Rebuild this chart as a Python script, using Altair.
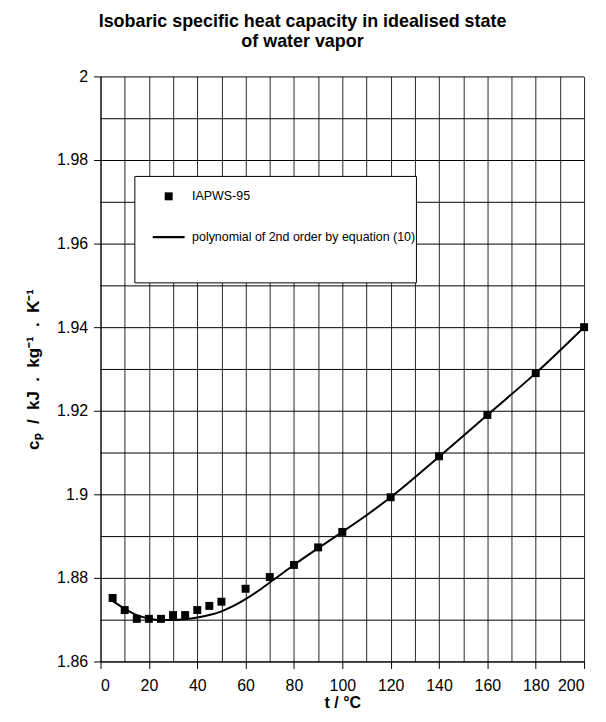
import altair as alt
import pandas as pd

# IAPWS-95 data points
pt_t = [5, 10, 15, 20, 25, 30, 35, 40, 45, 50, 60, 70, 80, 90, 100, 120, 140, 160, 180, 200]
pt_cp = [1.8752, 1.8723, 1.8702, 1.8702, 1.8702, 1.8711, 1.8711, 1.8723, 1.8733, 1.8743,
         1.8774, 1.8802, 1.8831, 1.8873, 1.8910, 1.8993, 1.9091, 1.9190, 1.9290, 1.9400]

# polynomial curve
line_t = [5, 10, 15, 20, 25, 30, 35, 40, 45, 50, 55, 60, 65, 70, 75, 80, 90, 100, 110, 120, 140, 160, 180, 200]
line_cp = [1.8745, 1.8726, 1.8711, 1.8703, 1.8699, 1.8699, 1.8701, 1.8705, 1.8711, 1.8720, 1.8733,
           1.8749, 1.8768, 1.8789, 1.8810, 1.8831, 1.8871, 1.8910, 1.8950, 1.8993, 1.9090, 1.9190,
           1.9290, 1.9400]

series_names = ["IAPWS-95", "polynomial of 2nd order by equation (10)"]

x_ticks = [0, 10, 20, 30, 40, 50, 60, 70, 80, 90, 100, 110, 120, 130, 140, 150, 160, 170, 180, 190, 200]
y_ticks = [1.86, 1.87, 1.88, 1.89, 1.90, 1.91, 1.92, 1.93, 1.94, 1.95, 1.96, 1.97, 1.98, 1.99, 2.00]

FONT = "Liberation Sans"
SYM = 1681
NB = "\u00a0"

df_pts = pd.DataFrame({"t": pt_t, "cp": pt_cp, "series": series_names[0]})
df_line = pd.DataFrame({"t": line_t, "cp": line_cp, "series": series_names[1]})
df_ygrid = pd.DataFrame({"g": y_ticks})

x_scale = alt.Scale(domain=[0, 200], nice=False, zero=False)
y_scale = alt.Scale(domain=[1.86, 2.0], nice=False, zero=False)

x_enc = alt.X(
    "t:Q",
    scale=x_scale,
    axis=alt.Axis(
        values=x_ticks,
        grid=True,
        labelExpr="datum.value % 20 == 0 ? datum.label : ''",
        tickOpacity={"condition": {"test": "datum.value % 20 == 0", "value": 1}, "value": 0},
        title="t / °C",
    ),
)
y_title = "cₚ" + NB * 2 + "/" + NB * 2 + "kJ" + NB * 2 + "." + NB * 2 + "kg⁻¹" + NB * 2 + "." + NB * 2 + "K⁻¹"
y_axis = alt.Axis(
    values=y_ticks,
    grid=False,
    labelExpr="round(datum.value*100) % 2 == 0 ? format(datum.value, '.2~f') : ''",
    tickOpacity={"condition": {"test": "round(datum.value*100) % 2 == 0", "value": 1}, "value": 0},
    title=y_title,
)

ygrid = alt.Chart(df_ygrid).mark_rule(color="#000000", opacity=1, strokeWidth=1, yOffset=0.5).encode(
    y=alt.Y("g:Q", scale=y_scale, axis=y_axis)
)

line = alt.Chart(df_line).mark_line(color="black", strokeWidth=2, interpolate="monotone").encode(
    x=x_enc, y=alt.Y("cp:Q", scale=y_scale, axis=y_axis)
)

points = alt.Chart(df_pts).mark_point(
    filled=True, fill="black", strokeWidth=0, size=SYM, opacity=1
).encode(
    x=x_enc,
    y=alt.Y("cp:Q", scale=y_scale, axis=y_axis),
    shape=alt.Shape(
        "series:N",
        scale=alt.Scale(
            domain=series_names,
            range=["M-0.195,-0.195H0.195V0.195H-0.195Z", "M-0.78,-0.05H0.78V0.05H-0.78Z"],
        ),
        legend=alt.Legend(
            title=".",
            titleOrient="bottom",
            titleOpacity=0,
            titleFontSize=20,
            titlePadding=19,
            orient="none",
            legendX=34,
            legendY=100,
            direction="vertical",
            fillColor="white",
            strokeColor="black",
            padding=0,
            rowPadding=14,
            symbolOffset=14,
            symbolSize=SYM,
            symbolFillColor="black",
            symbolStrokeColor="black",
            symbolStrokeWidth=0,
            labelFont=FONT,
            labelFontSize=12.5,
            labelColor="black",
            labelOffset=3,
            labelLimit=400,
        ),
    ),
)

chart = (
    alt.layer(ygrid, line, points)
    .properties(
        width=486,
        height=588,
        autosize=alt.AutoSizeParams(type="none"),
        padding={"left": 93, "top": 67, "right": 14, "bottom": 47},
        title=alt.TitleParams(
            text=["Isobaric specific heat capacity in idealised state", "of water vapor"],
            font=FONT,
            fontSize=18,
            fontWeight="bold",
            color="black",
            anchor="middle",
            dx=-40,
            offset=18,
            lineHeight=20,
        ),
    )
    .configure_view(strokeWidth=0)
    .configure_axis(
        gridColor="#000000",
        gridOpacity=0.85,
        gridWidth=1,
        domainColor="#000000",
        domainWidth=1,
        tickColor="#000000",
        tickSize=7,
        labelFont=FONT,
        labelFontSize=16,
        labelColor="black",
        titleFont=FONT,
        titleFontSize=16,
        titleFontWeight="bold",
        titleColor="black",
    )
    .configure_axisX(labelPadding=9, titlePadding=1)
    .configure_axisY(labelPadding=6, titlePadding=14, titleFontSize=17)
)

chart.save("out.html", embed_options={"renderer": "svg", "actions": False})
